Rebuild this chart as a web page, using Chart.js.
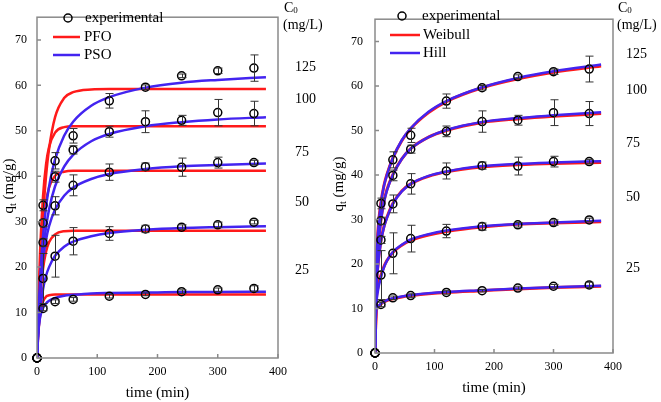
<!DOCTYPE html>
<html>
<head>
<meta charset="utf-8">
<script src="https://cdn.jsdelivr.net/npm/chart.js@4.4.0/dist/chart.umd.min.js"></script>
<style>
  html, body { margin: 0; padding: 0; background: #fff; }
  #wrap { position: relative; width: 661px; height: 402px; }
  canvas { position: absolute; top: 0; }
  #left { left: 0; }
  #right { left: 330px; }
</style>
</head>
<body>
<div id="wrap">
  <canvas id="left" width="330" height="402"></canvas>
  <canvas id="right" width="331" height="402"></canvas>
</div>
<script>
// experimental sampling times (min)
const times = [0, 10, 30, 60, 120, 180, 240, 300, 360];

// experimental q_t (mg/g) and error bars, per C0
const exp125 = [0, 33.6, 43.4, 48.9, 56.6, 59.6, 62.1, 63.2, 63.8];
const err125 = [0, 1.2, 1.8, 1.6, 1.6, 0.5, 0.4, 0.6, 2.9];
const exp100 = [0, 29.7, 39.9, 45.8, 49.8, 52.0, 52.3, 54.0, 53.8];
const err100 = [0, 0.8, 1.2, 0.9, 1.2, 2.4, 1.1, 2.9, 2.7];
const exp75 = [0, 25.4, 33.5, 38.0, 40.9, 42.1, 42.0, 43.0, 43.0];
const err75 = [0, 0.8, 2.0, 2.3, 1.8, 0.8, 2.0, 1.2, 0.5];
const exp50 = [0, 17.5, 22.4, 25.7, 27.4, 28.4, 28.8, 29.3, 29.9];
const err50 = [0, 5.5, 4.6, 3.0, 1.5, 0.8, 0.5, 0.6, 0.4];
const exp25 = [0, 10.9, 12.4, 12.9, 13.6, 14.0, 14.6, 15.0, 15.3];
const err25 = [0, 0.5, 0.4, 0.4, 0.4, 0.3, 0.4, 0.4, 0.6];

// model curves at these times
const curveT = [0, 2, 5, 10, 15, 20, 30, 45, 60, 90, 120, 180, 240, 300, 380];

const pfo125 = [0, 8.3, 18.5, 31.3, 40.0, 46.0, 53.0, 57.2, 58.5, 59.1, 59.2, 59.2, 59.2, 59.2, 59.2];
const pfo100 = [0, 10.9, 23.0, 35.6, 42.6, 46.4, 49.6, 50.8, 51.0, 51.0, 51.0, 51.0, 51.0, 51.0, 51.0];
const pfo75 = [0, 8.8, 18.6, 28.8, 34.4, 37.5, 40.1, 41.0, 41.2, 41.2, 41.2, 41.2, 41.2, 41.2, 41.2];
const pfo50 = [0, 6.0, 12.6, 19.6, 23.4, 25.5, 27.2, 27.9, 28.0, 28.0, 28.0, 28.0, 28.0, 28.0, 28.0];
const pfo25 = [0, 5.0, 9.3, 12.4, 13.5, 13.8, 14.0, 14.0, 14.0, 14.0, 14.0, 14.0, 14.0, 14.0, 14.0];

const pso125 = [0, 8.0, 16.9, 26.8, 33.2, 37.7, 43.7, 48.9, 52.0, 55.5, 57.4, 59.5, 60.6, 61.2, 61.8];
const pso100 = [0, 7.0, 14.7, 23.2, 28.8, 32.7, 37.8, 42.1, 44.7, 47.7, 49.3, 51.0, 51.9, 52.5, 53.0];
const pso75 = [0, 7.1, 14.3, 21.6, 26.0, 29.0, 32.7, 35.7, 37.5, 39.4, 40.5, 41.6, 42.2, 42.5, 42.8];
const pso50 = [0, 5.1, 10.1, 15.1, 18.1, 20.0, 22.5, 24.5, 25.6, 26.8, 27.5, 28.2, 28.6, 28.8, 29.0];
const pso25 = [0, 5.5, 8.8, 11.0, 12.0, 12.6, 13.2, 13.7, 13.9, 14.2, 14.3, 14.4, 14.5, 14.5, 14.6];

const wb125 = [0, 18.0, 27.5, 33.8, 37.6, 40.1, 43.8, 47.7, 50.4, 54.0, 56.5, 59.6, 61.6, 63.1, 64.5];
const wb100 = [0, 16.5, 23.5, 30.0, 34.0, 36.7, 40.1, 43.6, 45.9, 48.5, 50.0, 51.8, 52.6, 53.2, 53.8];
const wb75 = [0, 13.5, 19.8, 25.2, 28.4, 30.5, 33.6, 36.4, 38.0, 39.7, 40.7, 41.8, 42.3, 42.6, 42.8];
const wb50 = [0, 11.0, 14.8, 17.5, 19.4, 20.8, 22.6, 24.2, 25.3, 26.5, 27.3, 28.3, 28.9, 29.2, 29.5];
const wb25 = [0, 9.6, 10.4, 11.0, 11.5, 11.8, 12.2, 12.6, 12.9, 13.3, 13.6, 14.0, 14.4, 14.7, 15.0];

const hill125 = [0, 18.0, 27.0, 33.6, 37.5, 40.0, 43.8, 47.8, 50.5, 54.2, 56.6, 59.7, 61.8, 63.3, 64.8];
const hill100 = [0, 16.0, 23.0, 29.8, 33.8, 36.5, 40.0, 43.6, 45.9, 48.5, 50.1, 51.9, 52.8, 53.4, 54.1];
const hill75 = [0, 13.0, 19.5, 25.0, 28.2, 30.3, 33.5, 36.3, 38.0, 39.8, 40.8, 42.0, 42.5, 42.8, 43.1];
const hill50 = [0, 10.0, 14.0, 17.0, 19.2, 20.7, 22.7, 24.3, 25.5, 26.7, 27.5, 28.5, 29.0, 29.3, 29.7];
const hill25 = [0, 9.8, 10.5, 11.1, 11.5, 11.9, 12.3, 12.7, 13.0, 13.4, 13.7, 14.1, 14.5, 14.8, 15.1];

const c0Labels = ['125', '100', '75', '50', '25'];
const xTicks = [0, 100, 200, 300, 400];
const yTicks = [0, 10, 20, 30, 40, 50, 60, 70];

const RED = '#ff1a1a';
const BLUE = '#4324f0';
const SERIF = '"Liberation Serif", "Times New Roman", serif';

const expSets = [[exp125, err125], [exp100, err100], [exp75, err75], [exp50, err50], [exp25, err25]];

function pts(xs, ys) { return xs.map((v, i) => ({ x: v, y: ys[i] })); }

function lineSet(label, ys, color, width) {
  return {
    label: label, data: pts(curveT, ys), showLine: true, borderColor: color,
    borderWidth: width, pointRadius: 0, cubicInterpolationMode: 'monotone', fill: false
  };
}

function makePanel(p) {
  return {
    id: 'panel',
    afterDatasetsDraw(chart) {
      const { ctx, scales: { x, y } } = chart;
      ctx.save();
      ctx.strokeStyle = '#333';
      ctx.lineWidth = 1;
      expSets.forEach(([q, e]) => {
        times.forEach((t, i) => {
          if (!e[i]) return;
          const px = Math.round(x.getPixelForValue(t)) + 0.5;
          const y1 = y.getPixelForValue(q[i] + e[i]);
          const y2 = y.getPixelForValue(q[i] - e[i]);
          ctx.beginPath();
          ctx.moveTo(px, y1); ctx.lineTo(px, y2);
          ctx.moveTo(px - 4, y1); ctx.lineTo(px + 4, y1);
          ctx.moveTo(px - 4, y2); ctx.lineTo(px + 4, y2);
          ctx.stroke();
        });
      });
      ctx.restore();
    },
    afterDraw(chart) {
      const { ctx, chartArea: a, scales: { x, y } } = chart;
      ctx.save();
      // frame + inward ticks
      ctx.strokeStyle = '#8a8a8a';
      ctx.lineWidth = 1.5;
      ctx.strokeRect(a.left, a.top, a.right - a.left, a.bottom - a.top);
      ctx.beginPath();
      xTicks.forEach(v => { const px = x.getPixelForValue(v); ctx.moveTo(px, a.bottom); ctx.lineTo(px, a.bottom - 4); });
      yTicks.forEach(v => { const py = y.getPixelForValue(v); ctx.moveTo(a.left, py); ctx.lineTo(a.left + 4, py); });
      ctx.stroke();

      ctx.fillStyle = '#000';
      ctx.textBaseline = 'middle';

      // y title q_t (mg/g)
      ctx.save();
      ctx.translate(p.yTitle[0], p.yTitle[1]);
      ctx.rotate(-Math.PI / 2);
      ctx.font = '15px ' + SERIF;
      const w1 = ctx.measureText('q').width;
      const w3 = ctx.measureText(' (mg/g)').width;
      ctx.font = '10px ' + SERIF;
      const w2 = ctx.measureText('t').width;
      let x0 = -(w1 + w2 + w3) / 2;
      ctx.textAlign = 'left';
      ctx.font = '15px ' + SERIF;
      ctx.fillText('q', x0, 0);
      ctx.font = '10px ' + SERIF;
      ctx.fillText('t', x0 + w1, 4);
      ctx.font = '15px ' + SERIF;
      ctx.fillText(' (mg/g)', x0 + w1 + w2, 0);
      ctx.restore();

      // legend
      const L = p.legend;
      ctx.font = '15px ' + SERIF;
      ctx.textAlign = 'left';
      ctx.lineWidth = 1.5;
      ctx.strokeStyle = '#000';
      ctx.beginPath();
      ctx.arc(L.mark, L.rows[0], 4, 0, Math.PI * 2);
      ctx.stroke();
      ctx.fillText('experimental', L.text0, L.rows[0]);
      [[p.names[0], RED], [p.names[1], BLUE]].forEach(([name, col], k) => {
        const yy = L.rows[k + 1];
        ctx.strokeStyle = col;
        ctx.lineWidth = 2.5;
        ctx.beginPath();
        ctx.moveTo(L.line[0], yy); ctx.lineTo(L.line[1], yy);
        ctx.stroke();
        ctx.fillText(name, L.text1, yy);
      });

      // C0 labels
      const C = p.c0;
      ctx.font = '14px ' + SERIF;
      ctx.fillText('C', C.x, 8);
      const cw = ctx.measureText('C').width;
      ctx.font = '9px ' + SERIF;
      ctx.fillText('0', C.x + cw, 11);
      ctx.font = '14px ' + SERIF;
      ctx.fillText('(mg/L)', C.x - 1, 25);
      c0Labels.forEach((s, i) => ctx.fillText(s, C.nx, C.ys[i]));
      ctx.restore();
    }
  };
}

function makeChart(id, p, sets) {
  const tickFont = { family: SERIF, size: 12 };
  return new Chart(document.getElementById(id), {
    type: 'scatter',
    data: { datasets: sets },
    options: {
      responsive: false,
      animation: false,
      layout: { padding: { top: p.top, right: p.right, left: 0, bottom: 0 } },
      plugins: { legend: { display: false }, tooltip: { enabled: false } },
      scales: {
        x: {
          min: 0, max: 400,
          grid: { display: false, drawTicks: false },
          border: { display: false },
          ticks: { stepSize: 100, color: '#000', font: tickFont, padding: 7, maxRotation: 0 },
          title: { display: true, text: 'time (min)', color: '#000',
                   font: { family: SERIF, size: 15, lineHeight: 1 }, padding: { top: 0, bottom: p.xTitlePad } },
          afterFit(s) { s.height = p.xH; }
        },
        y: {
          min: 0, max: 75,
          grid: { display: false, drawTicks: false },
          border: { display: false },
          ticks: { stepSize: 10, includeBounds: false, color: '#000', font: tickFont, padding: p.yPad },
          afterFit(s) { s.width = p.yW; }
        }
      }
    },
    plugins: [makePanel(p)]
  });
}

function expData() {
  return expSets.map(([q]) => ({
    label: 'experimental', data: pts(times, q), pointRadius: 4, pointHoverRadius: 4,
    pointBorderWidth: 1.5, borderColor: '#000', backgroundColor: 'rgba(0,0,0,0)',
    showLine: false, clip: false
  }));
}

const leftSets = [].concat(
  expData(),
  [pso125, pso100, pso75, pso50, pso25].map(d => lineSet('PSO', d, BLUE, 2.5)),
  [pfo125, pfo100, pfo75, pfo50, pfo25].map(d => lineSet('PFO', d, RED, 2.5))
);

const rightSets = [].concat(
  expData(),
  [hill125, hill100, hill75, hill50, hill25].map(d => lineSet('Hill', d, BLUE, 2.5)),
  [wb125, wb100, wb75, wb50, wb25].map(d => lineSet('Weibull', d, RED, 3))
);

makeChart('left', {
  top: 1, right: 52, xH: 44, yW: 37, yPad: 10, xTitlePad: 1,
  yTitle: [9, 186],
  names: ['PFO', 'PSO'],
  legend: { mark: 68, text0: 85, line: [53, 80], text1: 84, rows: [18, 37, 55] },
  c0: { x: 284, nx: 295, ys: [67, 99, 152, 202, 270] }
}, leftSets);

makeChart('right', {
  top: 2, right: 48, xH: 49, yW: 45, yPad: 12, xTitlePad: 6,
  yTitle: [9, 184],
  names: ['Weibull', 'Hill'],
  legend: { mark: 72, text0: 92, line: [60, 90], text1: 93, rows: [16, 35, 53] },
  c0: { x: 288, nx: 296, ys: [54, 90, 143, 197, 268] }
}, rightSets);
</script>
</body>
</html>
